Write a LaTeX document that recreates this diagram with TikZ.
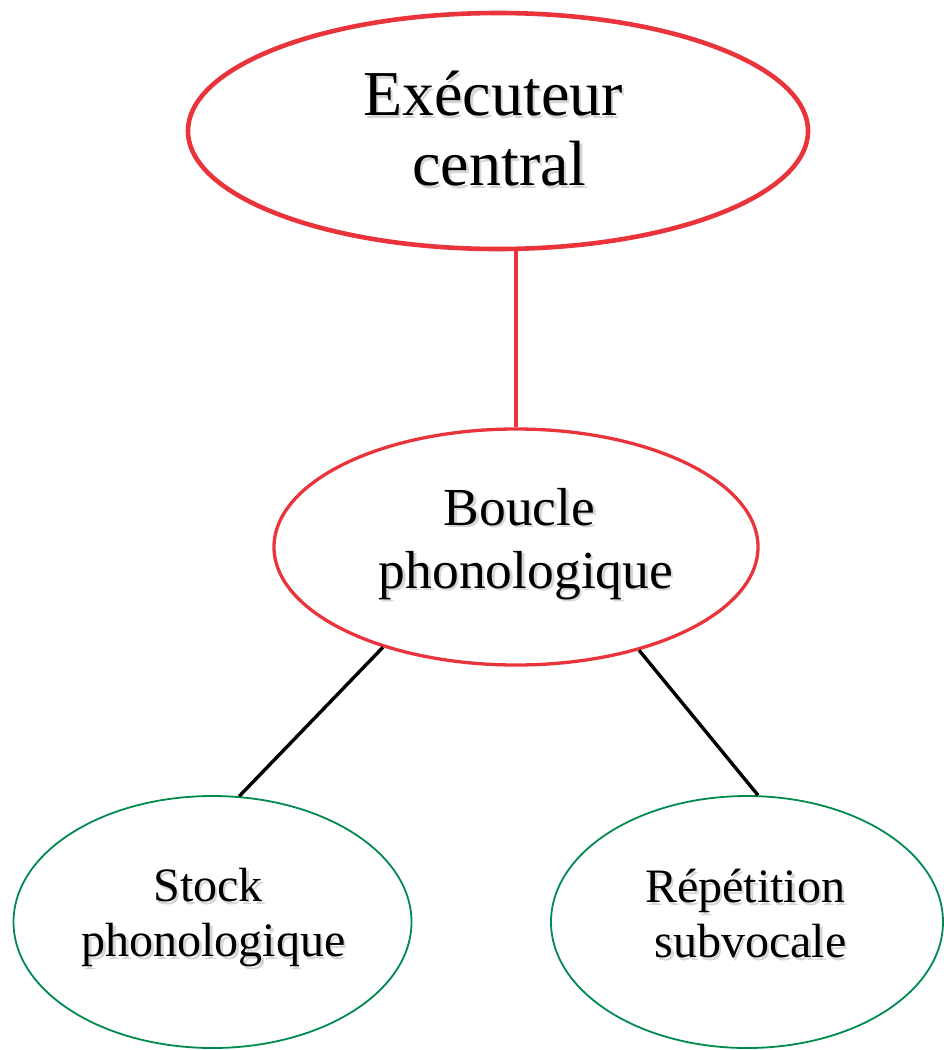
\documentclass[tikz,border=0pt]{standalone}
\usepackage{fontspec}
\setmainfont{Liberation Serif}
\usetikzlibrary{shapes.geometric}
\definecolor{ered}{RGB}{233,52,60}
\definecolor{egreen}{RGB}{0,138,78}
\begin{document}
\begin{tikzpicture}[x=1pt,y=-1pt,
  oval/.style={ellipse, draw, inner sep=0pt},
  txt/.style={align=center, inner sep=0pt, text=black},
  shd/.style={align=center, inner sep=0pt, text=black!16},
  big/.style={font=\fontsize{64}{70}\selectfont},
  mid/.style={font=\fontsize{53.5}{63}\selectfont},
  small/.style={font=\fontsize{48}{55}\selectfont},
  link/.style={line width=3.4pt}]
\useasboundingbox (0,0) rectangle (944,1050);
% ellipses
\node[oval, ered, line width=4.6pt, minimum width=620, minimum height=236] (top) at (498,131) {};
\node[oval, ered, line width=3.3pt, minimum width=484, minimum height=236] (boucle) at (516,547) {};
\node[oval, egreen, line width=1.8pt, minimum width=398, minimum height=252] (stock) at (212.5,922) {};
\node[oval, egreen, line width=1.8pt, minimum width=392, minimum height=252] (rep) at (747,922) {};
% shadows
\node[shd, big] (topS) at (502,131.5) {Exécuteur\hspace*{13pt}\\central};
\node[shd, mid] (boucleS) at (528.5,546.5) {Boucle\hspace*{13pt}\\phonologique};
\node[shd, small] (stockS) at (216,920.5) {Stock\hspace*{11pt}\\phonologique};
\node[shd, small] (repS) at (753,916.5) {Répétition\hspace*{11pt}\\subvocale};
% texts
\node[txt, big] (topT) at (499.5,129) {Exécuteur\hspace*{13pt}\\central};
\node[txt, mid] (boucleT) at (526,544) {Boucle\hspace*{13pt}\\phonologique};
\node[txt, small] (stockT) at (213.5,918) {Stock\hspace*{11pt}\\phonologique};
\node[txt, small] (repT) at (750.5,914) {Répétition\hspace*{11pt}\\subvocale};
% connectors
\draw[link, ered] (top.south -| boucle.north) -- (boucle.north);
\draw[link, black] (boucle.-143) -- (stock.78);
\draw[link, black] (boucle.-40) -- (rep.85);
\end{tikzpicture}
\end{document}
